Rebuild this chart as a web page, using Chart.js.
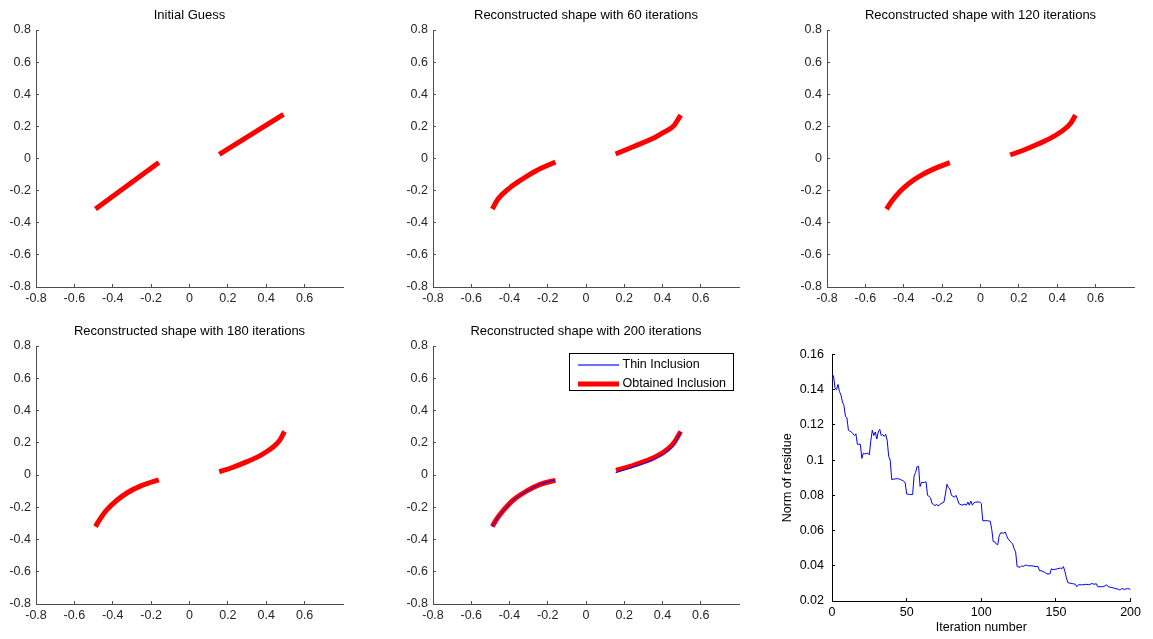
<!DOCTYPE html>
<html><head><meta charset="utf-8">
<script src="https://cdn.jsdelivr.net/npm/chart.js@4.4.0/dist/chart.umd.min.js"></script>
<style>
html,body{margin:0;padding:0;background:#fff;}
#fig{position:relative;width:1153px;height:639px;overflow:hidden;background:#fff;}
canvas{position:absolute;}
</style></head><body><div id="fig"></div>
<script>
// ---------- DATA ----------
const titles = ['Initial Guess', 'Reconstructed shape with 60 iterations', 'Reconstructed shape with 120 iterations',
  'Reconstructed shape with 180 iterations', 'Reconstructed shape with 200 iterations'];
const legendLabels = ['Thin Inclusion', 'Obtained Inclusion'];
const shapeTicks = [-0.8, -0.6, -0.4, -0.2, 0, 0.2, 0.4, 0.6, 0.8];

const guessLeftX = [-0.49, -0.16];
const guessLeftY = [-0.315, -0.025];
const guessRightX = [0.155, 0.49];
const guessRightY = [0.025, 0.275];

const it60LeftX = [-0.49, -0.46, -0.40, -0.33, -0.26, -0.16];
const it60LeftY = [-0.315, -0.252, -0.184, -0.126, -0.076, -0.022];
const it60RightX = [0.155, 0.25, 0.36, 0.41, 0.46, 0.495];
const it60RightY = [0.028, 0.075, 0.131, 0.165, 0.205, 0.27];

const it120LeftX = [-0.49, -0.46, -0.42, -0.37, -0.31, -0.24, -0.16];
const it120LeftY = [-0.315, -0.262, -0.205, -0.152, -0.105, -0.063, -0.026];
const it120RightX = [0.155, 0.22, 0.30, 0.37, 0.43, 0.47, 0.495];
const it120RightY = [0.022, 0.05, 0.09, 0.13, 0.175, 0.22, 0.27];

const it180LeftX = [-0.49, -0.465, -0.43, -0.38, -0.32, -0.25, -0.16];
const it180LeftY = [-0.32, -0.27, -0.215, -0.158, -0.107, -0.066, -0.03];
const it180RightX = [0.155, 0.22, 0.30, 0.37, 0.43, 0.47, 0.495];
const it180RightY = [0.02, 0.045, 0.083, 0.122, 0.168, 0.215, 0.27];

const it200LeftX = [-0.49, -0.47, -0.43, -0.38, -0.31, -0.24, -0.16];
const it200LeftY = [-0.32, -0.279, -0.217, -0.155, -0.099, -0.058, -0.033];
const it200RightX = [0.157, 0.253, 0.357, 0.427, 0.46, 0.495];
const it200RightY = [0.028, 0.062, 0.108, 0.16, 0.20, 0.27];

const trueLeftX = [-0.49, -0.47, -0.43, -0.38, -0.31, -0.24, -0.16];
const trueLeftY = [-0.32, -0.28, -0.22, -0.157, -0.10, -0.058, -0.03];
const trueRightX = [0.155, 0.25, 0.36, 0.43, 0.465, 0.495];
const trueRightY = [0.015, 0.05, 0.10, 0.153, 0.195, 0.265];

const iterations = [0,1,2,3,4,5,6,7,8,9,10,11,13,14,15,16,17,19,20,21,22,24,25,26,27,28,29,30,31,32,33,34,35,36,37,38,39,40,42,44,46,48,49,50,52,54,55,56,57,58,59,60,62,63,64,65,66,67,68,69,70,71,73,75,76,77,78,79,80,82,83,84,85,87,89,90,91,92,93,94,95,96,99,100,101,104,106,107,108,109,110,111,112,113,115,116,117,118,120,121,122,123,124,126,127,128,130,131,134,136,138,139,140,142,143,144,146,147,148,150,151,153,154,155,156,157,158,161,163,164,165,168,170,172,174,176,177,178,181,183,184,185,187,189,192,193,194,196,198,200];
const residue = [0.146,0.148,0.141,0.140,0.143,0.139,0.137,0.133,0.131,0.125,0.124,0.117,0.116,0.115,0.114,0.115,0.109,0.109,0.101,0.104,0.1035,0.104,0.103,0.111,0.117,0.114,0.116,0.112,0.116,0.1175,0.114,0.1145,0.1135,0.1147,0.111,0.102,0.100,0.089,0.0893,0.0895,0.089,0.088,0.0873,0.0808,0.0805,0.0805,0.091,0.093,0.0964,0.0964,0.085,0.0873,0.0873,0.0878,0.080,0.0794,0.0786,0.0753,0.075,0.074,0.075,0.074,0.0753,0.0762,0.0808,0.0863,0.0845,0.0836,0.080,0.079,0.080,0.078,0.0753,0.0744,0.075,0.0744,0.0762,0.0744,0.0768,0.0744,0.0757,0.0762,0.0762,0.0753,0.0656,0.0656,0.0653,0.0607,0.0537,0.0537,0.0524,0.0519,0.057,0.0588,0.0585,0.0592,0.057,0.0552,0.0533,0.0524,0.0497,0.0479,0.0396,0.0391,0.040,0.0396,0.0405,0.040,0.040,0.0396,0.0396,0.0372,0.0372,0.0365,0.036,0.0354,0.0354,0.0383,0.0378,0.0381,0.0383,0.0387,0.0383,0.0396,0.0369,0.0332,0.0304,0.0299,0.0295,0.0281,0.0292,0.0292,0.0295,0.0292,0.0299,0.0295,0.0299,0.0281,0.0281,0.0286,0.0292,0.0281,0.0277,0.0273,0.0266,0.0262,0.0271,0.0266,0.0271,0.0266];

// ---------- RENDER ----------
const FONT = '"Liberation Sans", Arial, Helvetica, sans-serif';
const BLUE = '#0000ff', RED = '#ff0000';
Chart.defaults.font.family = FONT;
Chart.defaults.animation = false;
const fig = document.getElementById('fig');

function pts(xs, ys) { return xs.map((x, i) => ({x: x, y: ys[i]})); }
function makeCanvas(left, top, w, h) {
  const c = document.createElement('canvas');
  c.width = w; c.height = h;
  c.style.left = left + 'px'; c.style.top = top + 'px';
  c.style.width = w + 'px'; c.style.height = h + 'px';
  fig.appendChild(c);
  return c;
}
const fmt = v => String(Math.round(v * 100) / 100);

function redLine(label, xs, ys) {
  return {label: label, data: pts(xs, ys), showLine: true, borderColor: RED, backgroundColor: RED,
    borderWidth: 5, pointRadius: 0, fill: false, cubicInterpolationMode: 'monotone'};
}
function blueLine(label, xs, ys) {
  return {label: label, data: pts(xs, ys), showLine: true, borderColor: BLUE, backgroundColor: BLUE,
    borderWidth: 1, pointRadius: 0, fill: false, cubicInterpolationMode: 'monotone'};
}

const legendItems = [
  {label: legendLabels[0], color: '#6f6fff', width: 2},
  {label: legendLabels[1], color: RED, width: 5}
];
const boxLegend = {
  id: 'boxLegend',
  afterDatasetsDraw(chart) {
    const ctx = chart.ctx, a = chart.chartArea;
    ctx.save();
    ctx.font = '12.5px ' + FONT;
    const tw = Math.max(...legendItems.map(i => ctx.measureText(i.label).width));
    const boxW = Math.round(9 + 40 + 4 + tw + 7), boxH = 37;
    const x0 = Math.round(a.right - 6 - boxW) + 0.5, y0 = Math.round(a.top + 7) + 0.5;
    ctx.fillStyle = '#fff'; ctx.fillRect(x0, y0, boxW, boxH);
    ctx.strokeStyle = '#000'; ctx.lineWidth = 1; ctx.strokeRect(x0, y0, boxW, boxH);
    legendItems.forEach((it, i) => {
      const yy = Math.round(y0 + 11 + i * 19);
      ctx.strokeStyle = it.color; ctx.lineWidth = it.width;
      ctx.beginPath(); ctx.moveTo(x0 + 8.5, yy); ctx.lineTo(x0 + 49.5, yy); ctx.stroke();
      ctx.fillStyle = '#000'; ctx.textBaseline = 'middle'; ctx.textAlign = 'left';
      ctx.fillText(it.label, x0 + 53, yy);
    });
    ctx.restore();
  }
};

function shapePlot(area, title, datasets, plugins) {
  const L = area[0], T = area[1], R = area[2], B = area[3];
  const padL = 45, padT = 30, padR = 20, padB = 30;
  const c = makeCanvas(L - padL, T - padT, R - L + padL + padR, B - T + padT + padB);
  const axisColor = '#4d4d4d';
  new Chart(c, {
    type: 'scatter',
    data: {datasets: datasets},
    options: {
      responsive: false, animation: false, devicePixelRatio: 1,
      layout: {padding: {left: 0, top: 0, right: padR, bottom: 0}},
      plugins: {
        legend: {display: false}, tooltip: {enabled: false},
        title: {display: true, text: title, fullSize: false, color: '#000',
          font: {size: 13, weight: 'normal'}, padding: {top: 7.2, bottom: 7.2}}
      },
      scales: {
        x: {type: 'linear', min: shapeTicks[0], max: shapeTicks[shapeTicks.length - 1],
          ticks: {stepSize: 0.2, color: '#262626', font: {size: 12.5}, padding: 7, maxRotation: 0, autoSkip: false, callback: fmt},
          grid: {drawOnChartArea: false, drawTicks: true, tickLength: -3, color: axisColor},
          border: {color: axisColor},
          afterBuildTicks: s => { s.ticks = s.ticks.filter(t => t.value < shapeTicks[shapeTicks.length - 1] - 0.01); },
          afterFit: s => { s.height = padB; }},
        y: {type: 'linear', min: shapeTicks[0], max: shapeTicks[shapeTicks.length - 1],
          ticks: {stepSize: 0.2, color: '#262626', font: {size: 12.5}, padding: 8, autoSkip: false, callback: fmt},
          grid: {drawOnChartArea: false, drawTicks: true, tickLength: -3, color: axisColor},
          border: {color: axisColor},
          afterFit: s => { s.width = padL; }}
      }
    },
    plugins: plugins || []
  });
}

shapePlot([36, 30, 343, 287], titles[0], [
  redLine(legendLabels[1], guessLeftX, guessLeftY), redLine(legendLabels[1], guessRightX, guessRightY)]);
shapePlot([433, 30, 739, 287], titles[1], [
  redLine(legendLabels[1], it60LeftX, it60LeftY), redLine(legendLabels[1], it60RightX, it60RightY)]);
shapePlot([827, 30, 1134, 287], titles[2], [
  redLine(legendLabels[1], it120LeftX, it120LeftY), redLine(legendLabels[1], it120RightX, it120RightY)]);
shapePlot([36, 346, 343, 604], titles[3], [
  redLine(legendLabels[1], it180LeftX, it180LeftY), redLine(legendLabels[1], it180RightX, it180RightY)]);
shapePlot([433, 346, 739, 604], titles[4], [
  blueLine(legendLabels[0], trueLeftX, trueLeftY), blueLine(legendLabels[0], trueRightX, trueRightY),
  redLine(legendLabels[1], it200LeftX, it200LeftY), redLine(legendLabels[1], it200RightX, it200RightY)], [boxLegend]);

// residue plot
(function () {
  const L = 832, T = 346, R = 1136, B = 601;
  const padL = 60, padT = 10, padR = 12, padB = 38;
  const c = makeCanvas(L - padL, T - padT, R - L + padL + padR, B - T + padT + padB);
  new Chart(c, {
    type: 'scatter',
    data: {datasets: [{label: 'Norm of residue', data: pts(iterations, residue), showLine: true,
      borderColor: BLUE, borderWidth: 1, pointRadius: 0, fill: false, tension: 0}]},
    options: {
      responsive: false, animation: false, devicePixelRatio: 1,
      layout: {padding: {left: 0, top: padT, right: padR, bottom: 0}},
      plugins: {legend: {display: false}, tooltip: {enabled: false}},
      scales: {
        x: {type: 'linear', min: 0, max: 200,
          ticks: {stepSize: 50, color: '#000', font: {size: 12.5}, padding: 7, maxRotation: 0, autoSkip: false},
          grid: {drawOnChartArea: false, drawTicks: true, tickLength: -3, color: '#000'},
          border: {color: '#000'},
          title: {display: true, text: 'Iteration number', color: '#000', font: {size: 12.5}, padding: {top: 0, bottom: 3.5}},
          afterFit: s => { s.height = padB; }},
        y: {type: 'linear', min: 0.02, max: 0.16,
          ticks: {stepSize: 0.02, color: '#000', font: {size: 12.5}, padding: 11, autoSkip: false, callback: fmt},
          grid: {drawOnChartArea: false, drawTicks: true, tickLength: -3, color: '#000'},
          border: {color: '#000'},
          title: {display: true, text: 'Norm of residue', color: '#000', font: {size: 12.5}, padding: {top: 8.5, bottom: 0}},
          afterFit: s => { s.width = padL; }}
      }
    }
  });
})();
</script>
</body></html>
